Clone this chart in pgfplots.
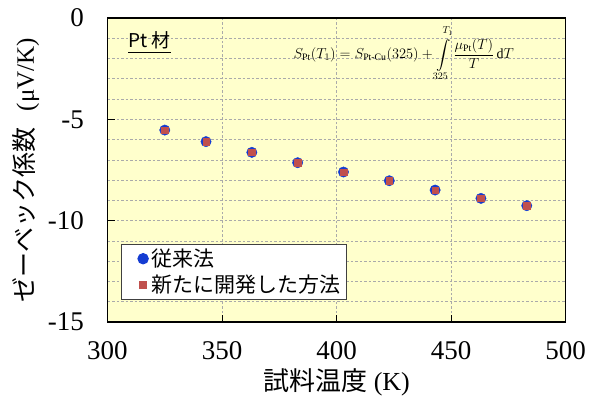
\documentclass[border=0pt]{standalone}
\usepackage{amsmath}
\usepackage{pgfplots}
\pgfplotsset{compat=1.18}
\usepackage{fontspec}
\setmainfont{Liberation Serif}
\newfontfamily\jp{Noto Sans CJK JP}
\definecolor{bg}{RGB}{255,255,204}
\definecolor{mblue}{RGB}{20,60,210}
\definecolor{mred}{RGB}{192,80,77}
\definecolor{gridc}{RGB}{170,170,170}
\begin{document}
\begin{tikzpicture}[x=1pt,y=1pt]
\useasboundingbox (0,0) rectangle (601,397);
\begin{axis}[
  at={(107.5pt,75pt)}, anchor=south west,
  width=458.2pt, height=304pt, scale only axis,
  xmin=300, xmax=500, ymin=-15, ymax=0,
  axis background/.style={fill=bg},
  xtick={300,350,400,450,500}, ytick={-15,-10,-5,0},
  minor ytick={-14,-13,-12,-11,-9,-8,-7,-6,-4,-3,-2,-1},
  grid=both,
  major grid style={gridc, dash pattern=on 2.5pt off 2pt, line width=0.7pt},
  minor grid style={gridc, dash pattern=on 2.5pt off 2pt, line width=0.7pt},
  tick align=inside, xtick pos=bottom, ytick pos=left,
  major tick length=7pt, minor tick length=0pt,
  tick style={black, line width=0.8pt},
  axis line style={black, line width=1.1pt},
  ticklabel style={font=\fontsize{27}{27}\selectfont},
  /pgf/number format/assume math mode=true,
  xticklabel shift=16pt, yticklabel shift=20pt,
  xlabel={{\jp 試料温度} (K)},
  xlabel style={font=\fontsize{26}{26}\selectfont, at={(axis description cs:0.5,-0.198)}, anchor=center},
  ylabel={{\jp ゼーベック係数}\hspace{16pt}(μV/K)},
  ylabel style={font=\fontsize{25}{25}\selectfont, at={(axis description cs:-0.178,0.5)}, anchor=center},
  legend style={at={(axis description cs:0.0288,0.0724)}, anchor=south west,
    draw=black!75, line width=1pt, fill=white, font=\jp\fontsize{21}{21}\selectfont,
    inner xsep=4pt, inner ysep=3pt, row sep=3pt, cells={anchor=west}},
  legend image code/.code={\path[draw=none,fill=none] (0cm,-0.1cm) rectangle (0.84cm,0.1cm); \draw[#1] plot coordinates {(0.63cm,0cm)};},
]
\addplot[only marks, mark=*, mark size=5.2pt, mark options={fill=mblue, draw=mblue}]
  coordinates {(325,-5.53) (343,-6.10) (363,-6.63) (383,-7.14) (403,-7.60) (423,-8.03) (443,-8.49) (463,-8.90) (483,-9.26)};
\addlegendentry{従来法}
\addplot[only marks, mark=square*, mark size=3.3pt, mark options={fill=mred, draw=mred}]
  coordinates {(325,-5.53) (343,-6.10) (363,-6.63) (383,-7.14) (403,-7.60) (423,-8.03) (443,-8.49) (463,-8.90) (483,-9.26)};
\addlegendentry{新たに開発した方法}
\node[anchor=base west, font=\jp\fontsize{19}{19}\selectfont] at (axis cs:307.6,-1.48) {\underline{Pt 材}};
\node[anchor=center, font=\fontsize{14}{14}\selectfont] at (axis cs:429.3,-1.75)
  {$\displaystyle S_{\mathrm{Pt}}(T_1) = S_{\text{Pt-Cu}}(325) + \int\limits_{325}^{\raisebox{2.5pt}{$\scriptstyle\,T_1$}}\frac{\mu_{\mathrm{Pt}}(T)}{T}\,\mathrm{d}T$};
\end{axis}
\end{tikzpicture}
\end{document}
